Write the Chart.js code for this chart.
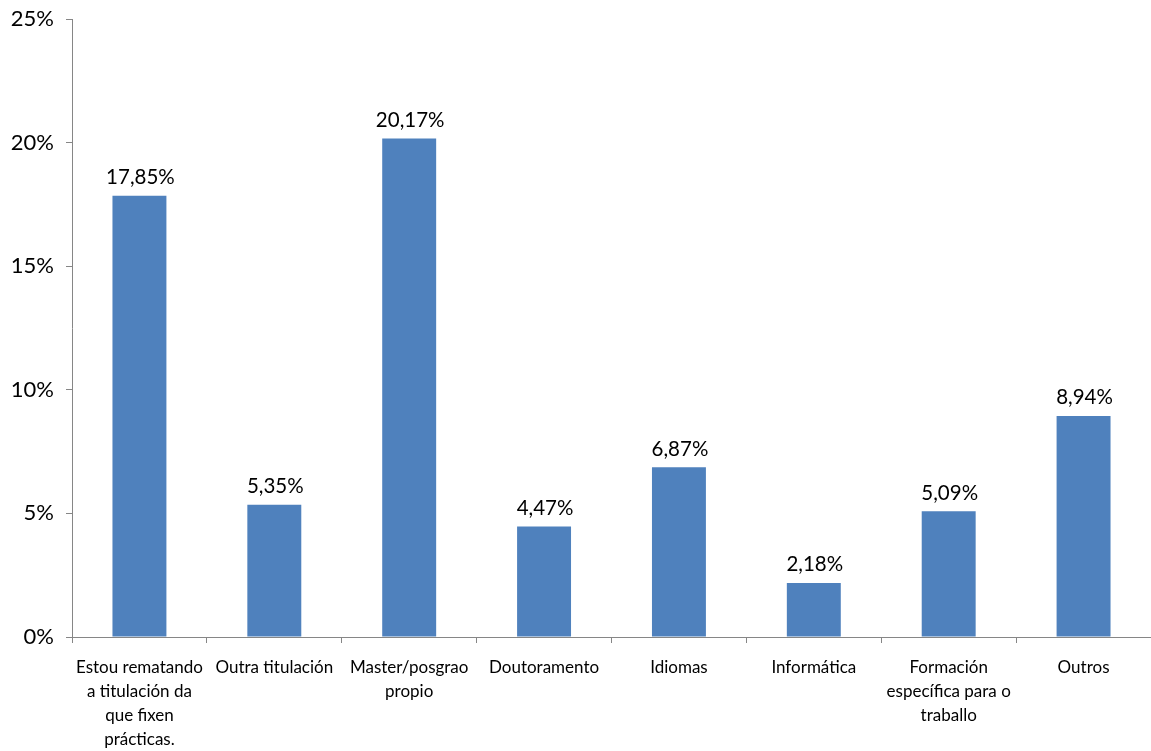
<!DOCTYPE html>
<html>
<head>
<meta charset="utf-8">
<script src="https://cdn.jsdelivr.net/npm/chart.js@4/dist/chart.umd.min.js"></script>
<style>
html,body{margin:0;padding:0;background:#fff;}
#wrap{width:1151px;height:751px;position:relative;}
</style>
</head>
<body>
<div id="wrap"><canvas id="c"></canvas></div>
<script>
const categories = [
  ["Estou rematando", "a titulación da", "que fixen", "prácticas."],
  ["Outra titulación"],
  ["Master/posgrao", "propio"],
  ["Doutoramento"],
  ["Idiomas"],
  ["Informática"],
  ["Formación", "específica para o", "traballo"],
  ["Outros"]
];
const values = [17.85, 5.35, 20.17, 4.47, 6.87, 2.18, 5.09, 8.94];
const yTicks = [0, 5, 10, 15, 20, 25];

const FONT = "Lato, 'Open Sans', sans-serif";

const labelPlugin = {
  id: 'valueLabels',
  afterDatasetsDraw(chart) {
    const ctx = chart.ctx;
    const meta = chart.getDatasetMeta(0);
    ctx.save();
    ctx.font = "20.5px " + FONT;
    ctx.fillStyle = "#000";
    ctx.textAlign = "center";
    ctx.textBaseline = "bottom";
    meta.data.forEach((bar, i) => {
      const txt = values[i].toFixed(2).replace('.', ',') + '%';
      ctx.fillText(txt, bar.x + 1, bar.y - 8);
    });
    ctx.restore();
  }
};

new Chart(document.getElementById('c'), {
  type: 'bar',
  data: {
    labels: categories,
    datasets: [{
      data: values,
      backgroundColor: '#4F81BD',
      borderWidth: 0,
      categoryPercentage: 1,
      barPercentage: 0.4
    }]
  },
  options: {
    responsive: true,
    maintainAspectRatio: false,
    animation: false,
    layout: { padding: { top: 19, right: 0, left: 0, bottom: 0 } },
    plugins: { legend: { display: false }, tooltip: { enabled: false } },
    scales: {
      x: {
        grid: { display: true, drawOnChartArea: false, drawTicks: true, tickLength: 6, color: '#868686', offset: true },
        border: { display: true, color: '#868686', width: 1 },
        ticks: { color: '#000', font: { family: FONT, size: 17, lineHeight: 1.42 }, padding: 12, maxRotation: 0, autoSkip: false },
        afterFit(s) { s.height = 114; s.paddingLeft = 0; s.paddingRight = 0; }
      },
      y: {
        min: 0, max: 25,
        afterBuildTicks(s) { s.ticks = yTicks.map(v => ({ value: v })); },
        grid: { display: true, drawOnChartArea: false, drawTicks: true, tickLength: 6, color: '#868686' },
        border: { display: true, color: '#868686', width: 1 },
        ticks: { color: '#000', font: { family: FONT, size: 22 }, padding: 12, callback: v => v + '%' },
        afterFit(s) { s.width = 72; s.paddingTop = 0; s.paddingBottom = 0; }
      }
    }
  },
  plugins: [labelPlugin]
});
</script>
</body>
</html>
